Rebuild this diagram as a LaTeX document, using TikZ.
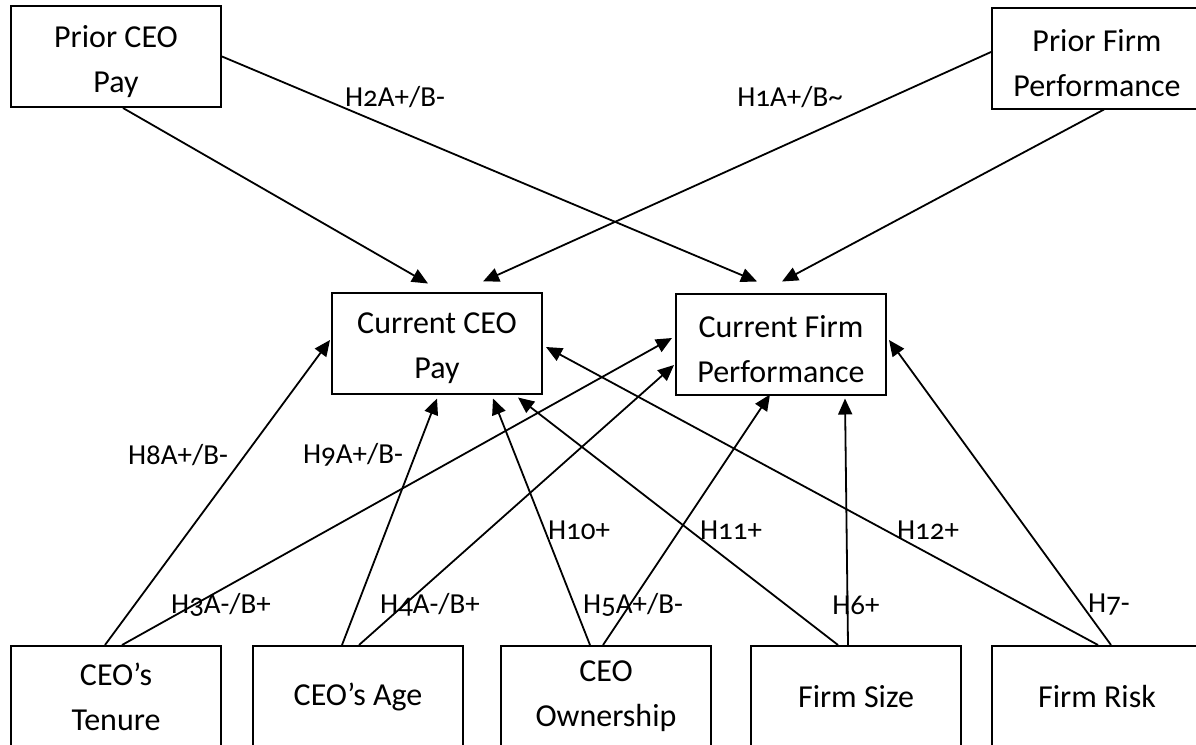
\documentclass[tikz,border=0pt]{standalone}
\usepackage{fontspec}
\setmainfont{Carlito}[Numbers=OldStyle]
\usetikzlibrary{arrows.meta,calc}
\newcommand{\topgap}{\rule{0pt}{32pt}}

\begin{document}
\begin{tikzpicture}[x=1pt, y=-1pt,
    box/.style={draw, line width=2pt, minimum width=210pt, minimum height=101pt,
        inner sep=0pt, align=center, font=\fontsize{32}{45}\selectfont},
    link/.style={line width=1.8pt, -{Triangle[length=16pt,width=14pt]}},
    hyp/.style={inner sep=0pt, font=\fontsize{29}{30}\selectfont}]
    % frame
    \useasboundingbox (0,0) rectangle (1196,744);
    \clip (0,0) rectangle (1196,744);

    % prior values
    \node[box] (priorpay) at (116,56.5) {\topgap Prior CEO\\Pay};
    \node[box] (priorperf) at (1097,58) {\topgap Prior Firm\\Performance};

    % current values
    \node[box] (curpay) at (437,343) {\topgap Current CEO\\Pay};
    \node[box] (curperf) at (781,344) {\topgap Current Firm\\Performance};

    % CEO and firm traits
    \node[box] (tenure) at (116,696.5) {CEO’s\\Tenure};
    \node[box] (age) at (358,696.5) {CEO’s Age};
    \node[box] (own) at (606,696.5) {CEO\\Ownership};
    \node[box] (size) at (856,696.5) {Firm Size};
    \node[box] (risk) at (1097,696.5) {Firm Risk};

    % links from the top
    \draw[link] ($(priorpay.south)+(7,0)$) -- ($(curpay.north)+(-9,-8)$);
    \draw[link] (priorpay.east) -- ($(curperf.north)+(-24,-11)$);
    \draw[link] ($(priorperf.west)+(0,-6)$) -- ($(curpay.north)+(46,-10)$);
    \draw[link] ($(priorperf.south)+(7,0)$) -- ($(curperf.north)+(1,-11)$);

    % links from the bottom
    \draw[link] ($(tenure.north)+(-11,0)$) -- ($(curpay.west)+(-1,-3)$);
    \draw[link] ($(tenure.north)+(6,0)$) -- ($(curperf.west)+(-3,-6)$);
    \draw[link] ($(age.north)+(-16,0)$) -- ($(curpay.south)+(0,4)$);
    \draw[link] ($(age.north)+(1,0)$) -- ($(curperf.west)+(-1,21)$);
    \draw[link] ($(own.north)+(-16,0)$) -- ($(curpay.south)+(56,4)$);
    \draw[link] ($(own.north)+(-3,0)$) -- ($(curperf.south)+(-11,-1)$);
    \draw[link] ($(size.north)+(-18,0)$) -- ($(curpay.south)+(81,3)$);
    \draw[link] ($(size.north)+(-8,0)$) -- ($(curperf.south)+(64,3)$);
    \draw[link] ($(risk.north)+(1,0)$) -- ($(curpay.east)+(3,4)$);
    \draw[link] ($(risk.north)+(14,0)$) -- ($(curperf.east)+(2,-4)$);

    % hypotheses
    \node[hyp] (h2) at (395,97) {H2A+/B-};
    \node[hyp] (h1) at (790,97) {H1A+/B\textasciitilde};
    \node[hyp] (h8) at (178,455) {H8A+/B-};
    \node[hyp] (h9) at (353,455) {H9A+/B-};
    \node[hyp] (h10) at (579,530) {H10+};
    \node[hyp] (h11) at (731,530) {H11+};
    \node[hyp] (h12) at (928,530) {H12+};
    \node[hyp] (h3) at (221,605) {H3A-/B+};
    \node[hyp] (h4) at (430,605) {H4A-/B+};
    \node[hyp] (h5) at (633,605) {H5A+/B-};
    \node[hyp] (h6) at (856,605) {H6+};
    \node[hyp] (h7) at (1109,605) {H7-};
\end{tikzpicture}
\end{document}
